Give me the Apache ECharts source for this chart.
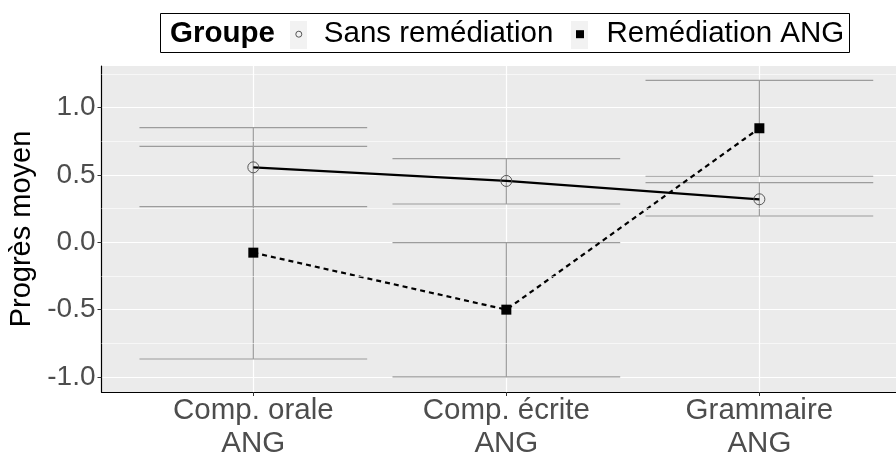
<!DOCTYPE html>
<html>
<head>
<meta charset="utf-8">
<script src="https://cdn.jsdelivr.net/npm/echarts@6/dist/echarts.min.js"></script>
<style>
  html, body { margin: 0; padding: 0; background: #fff; }
  #chart { width: 896px; height: 453px; }
</style>
</head>
<body>
<div id="chart"></div>
<script>
// categories on the x axis (positions 1, 2, 3)
const categories = ['Comp. orale\nANG', 'Comp. écrite\nANG', 'Grammaire\nANG'];
const catPos = [1, 2, 3];

// Sans remédiation : mean and error bar limits
const sansMean = [0.556, 0.455, 0.319];
const sansLow = [0.264, 0.284, 0.195];
const sansHigh = [0.850, 0.620, 0.442];

// Remédiation ANG : mean and error bar limits
const remMean = [-0.077, -0.500, 0.846];
const remLow = [-0.866, -0.999, 0.490];
const remHigh = [0.712, -0.003, 1.202];

const yTicks = [-1, -0.5, 0, 0.5, 1];
const yMinor = [-0.75, -0.25, 0.25, 0.75, 1.25];

const FONT = 'Liberation Sans';
const barHalf = 0.45;

function renderErrorBar(params, api) {
  const x = api.value(0);
  const pLo = api.coord([x, api.value(1)]);
  const pHi = api.coord([x, api.value(2)]);
  const hw = api.size([barHalf, 0])[0];
  const style = { stroke: '#9c9c9c', lineWidth: 1.2 };
  return {
    type: 'group',
    children: [
      { type: 'line', shape: { x1: pLo[0], y1: pLo[1], x2: pHi[0], y2: pHi[1] }, style },
      { type: 'line', shape: { x1: pLo[0] - hw, y1: pLo[1], x2: pLo[0] + hw, y2: pLo[1] }, style },
      { type: 'line', shape: { x1: pHi[0] - hw, y1: pHi[1], x2: pHi[0] + hw, y2: pHi[1] }, style }
    ]
  };
}

const chart = echarts.init(document.getElementById('chart'));

chart.setOption({
  animation: false,
  backgroundColor: '#fff',
  grid: {
    left: 101.5, right: 0, top: 66, bottom: 61,
    containLabel: false, outerBoundsMode: 'none',
    show: true, backgroundColor: '#ebebeb', borderWidth: 0
  },
  graphic: [
    { type: 'rect', z: 0, shape: { x: 160.5, y: 13.5, width: 689, height: 39 },
      style: { fill: '#fff', stroke: '#000', lineWidth: 1 } },
    { type: 'text', z: 1, x: 170, y: 34,
      style: { text: 'Groupe', font: 'bold 29.5px "' + FONT + '"', fill: '#000', verticalAlign: 'middle' } },
    { type: 'rect', z: 1, shape: { x: 290, y: 21, width: 17, height: 28 }, style: { fill: '#f2f2f2' } },
    { type: 'rect', z: 1, shape: { x: 571, y: 21, width: 17, height: 28 }, style: { fill: '#f2f2f2' } }
  ],
  legend: [
    {
      left: 295.3, top: 19.2, z: 5, padding: 0,
      itemWidth: 6, itemHeight: 6,
      textStyle: { fontFamily: FONT, fontSize: 29.5, color: '#000', padding: [0, 0, 0, 17] },
      data: [{ name: 'Sans remédiation', icon: 'circle',
        itemStyle: { color: 'rgba(0,0,0,0)', borderColor: '#555', borderWidth: 1 } }]
    },
    {
      left: 576, top: 19.2, z: 5, padding: 0,
      itemWidth: 8, itemHeight: 8,
      textStyle: { fontFamily: FONT, fontSize: 29.5, color: '#000', padding: [0, 0, 0, 17.5] },
      data: [{ name: 'Remédiation ANG', icon: 'rect', itemStyle: { color: '#000' } }]
    }
  ],
  xAxis: {
    type: 'value', min: 0.4, max: 3.54,
    axisLine: { show: true, onZero: false, lineStyle: { color: '#000', width: 1.2 } },
    axisTick: { show: true, length: 4, customValues: catPos, lineStyle: { color: '#333' } },
    axisLabel: {
      customValues: catPos, margin: 2,
      formatter: v => categories[Math.round(v) - 1],
      fontFamily: FONT, fontSize: 29.5, lineHeight: 33, color: '#4d4d4d'
    },
    splitLine: { show: true, lineStyle: { color: '#fff', width: 1.2 } }
  },
  yAxis: {
    type: 'value', min: -1.111, max: 1.308,
    name: 'Progrès moyen', nameLocation: 'middle', nameGap: 64,
    nameTextStyle: { fontFamily: FONT, fontSize: 29, color: '#000' },
    axisLine: { show: true, onZero: false, lineStyle: { color: '#000', width: 1.2 } },
    axisTick: { show: true, length: 4, customValues: yTicks, lineStyle: { color: '#333' } },
    axisLabel: {
      customValues: yTicks, margin: 6,
      formatter: v => v.toFixed(1),
      fontFamily: FONT, fontSize: 28, color: '#4d4d4d'
    },
    splitLine: { show: true, lineStyle: { color: '#fff', width: 1.2 } }
  },
  series: [
    {
      type: 'line', data: [], silent: true, z: 1,
      markLine: {
        silent: true, symbol: 'none', label: { show: false },
        lineStyle: { color: '#fff', width: 0.6, type: 'solid' },
        data: yMinor.map(v => ({ yAxis: v }))
      }
    },
    {
      type: 'custom', name: 'barsSans', renderItem: renderErrorBar, z: 2,
      data: catPos.map((x, i) => [x, sansLow[i], sansHigh[i]])
    },
    {
      type: 'custom', name: 'barsRem', renderItem: renderErrorBar, z: 2,
      data: catPos.map((x, i) => [x, remLow[i], remHigh[i]])
    },
    {
      type: 'line', name: 'Sans remédiation', z: 3,
      data: catPos.map((x, i) => [x, sansMean[i]]),
      symbol: 'circle', symbolSize: 11, showAllSymbol: true,
      itemStyle: { color: 'rgba(0,0,0,0)', borderColor: '#555', borderWidth: 1 },
      lineStyle: { color: '#000', width: 2.2 }
    },
    {
      type: 'line', name: 'Remédiation ANG', z: 3,
      data: catPos.map((x, i) => [x, remMean[i]]),
      symbol: 'rect', symbolSize: 10, showAllSymbol: true,
      itemStyle: { color: '#000' },
      lineStyle: { color: '#000', width: 2.2, type: [5, 4] }
    }
  ]
});
</script>
</body>
</html>
